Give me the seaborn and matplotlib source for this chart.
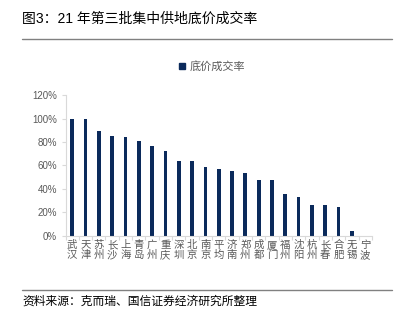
import matplotlib
matplotlib.use("Agg")
import matplotlib.pyplot as plt
import seaborn as sns
import pandas as pd
from matplotlib.ticker import FixedLocator, FuncFormatter
from matplotlib.lines import Line2D

cities = ["武汉", "天津", "苏州", "长沙", "上海", "青岛", "广州", "重庆", "深圳", "北京",
          "南京", "平均", "济南", "郑州", "成都", "厦门", "福州", "沈阳", "杭州", "长春",
          "合肥", "无锡", "宁波"]
rates = [100, 100, 89, 85, 84, 80.5, 76.5, 72, 64, 63.5,
         58.5, 57.3, 55.3, 53.3, 48, 48, 36, 33, 26, 26,
         24.5, 4, 0]
series_name = "底价成交率"
title = "图3：21 年第三批集中供地底价成交率"
source = "资料来源：克而瑞、国信证券经济研究所整理"

df = pd.DataFrame({"city": cities, "rate": rates})

sns.set_theme(style="white")
plt.rcParams["font.family"] = ["Liberation Sans", "Noto Sans CJK SC", "DejaVu Sans"]

fig = plt.figure(figsize=(4.02, 3.27), dpi=100)
ax = fig.add_axes([0.163, 0.279, 0.762, 0.430])

bar_color = "#0B2A5B"
sns.barplot(data=df, x="city", y="rate", color=bar_color, width=0.28,
            saturation=1, ax=ax, edgecolor="none")

ax.set_ylim(0, 120)
ax.set_xlim(-0.5, len(cities) - 0.5)
ax.set_yticks(range(0, 121, 20))
ax.yaxis.set_major_formatter(FuncFormatter(lambda v, p: f"{int(v)}%"))
ax.set_xlabel("")
ax.set_ylabel("")

ax.set_xticks(range(len(cities)))
ax.set_xticklabels(["\n".join(c) for c in cities], rotation=0, linespacing=1.0,
                   family=["Noto Sans CJK SC"])
ax.xaxis.set_minor_locator(FixedLocator([i - 0.5 for i in range(len(cities) + 1)]))

grey = "#595959"
spine_c = "#D9D9D9"
for s in ["top", "right"]:
    ax.spines[s].set_visible(False)
for s in ["left", "bottom"]:
    ax.spines[s].set_color(spine_c)
    ax.spines[s].set_linewidth(0.8)

ax.tick_params(axis="x", which="major", length=0, pad=3, labelsize=7.5, colors=grey)
ax.tick_params(axis="x", which="minor", length=3, width=0.8, color=spine_c, bottom=True)
ax.tick_params(axis="y", which="major", length=3, width=0.8, color=spine_c, left=True,
               labelsize=7, labelcolor=grey, pad=3)

# legend
handle = Line2D([], [], marker="s", linestyle="none", color=bar_color, markersize=4)
fig.legend([handle], [series_name], loc="center", bbox_to_anchor=(0.525, 1 - 66 / 327),
           frameon=False, prop={"family": ["Noto Sans CJK SC"], "size": 8},
           labelcolor=grey, handletextpad=0.3, handlelength=0.8)

# title & source with rules
fig.text(22 / 402, 1 - 19 / 327, title, fontsize=10, color="black", va="center", ha="left")
fig.add_artist(Line2D([22 / 402, 392 / 402], [1 - 39 / 327, 1 - 39 / 327],
                      color="#808080", linewidth=1.0))
fig.add_artist(Line2D([22 / 402, 392 / 402], [1 - 290 / 327, 1 - 290 / 327],
                      color="#808080", linewidth=1.0))
fig.text(22 / 402, 1 - 301 / 327, source, fontsize=8.5, color="black", va="center", ha="left",
         family=["Noto Sans CJK SC"])

fig.savefig("out.png", dpi=100)
